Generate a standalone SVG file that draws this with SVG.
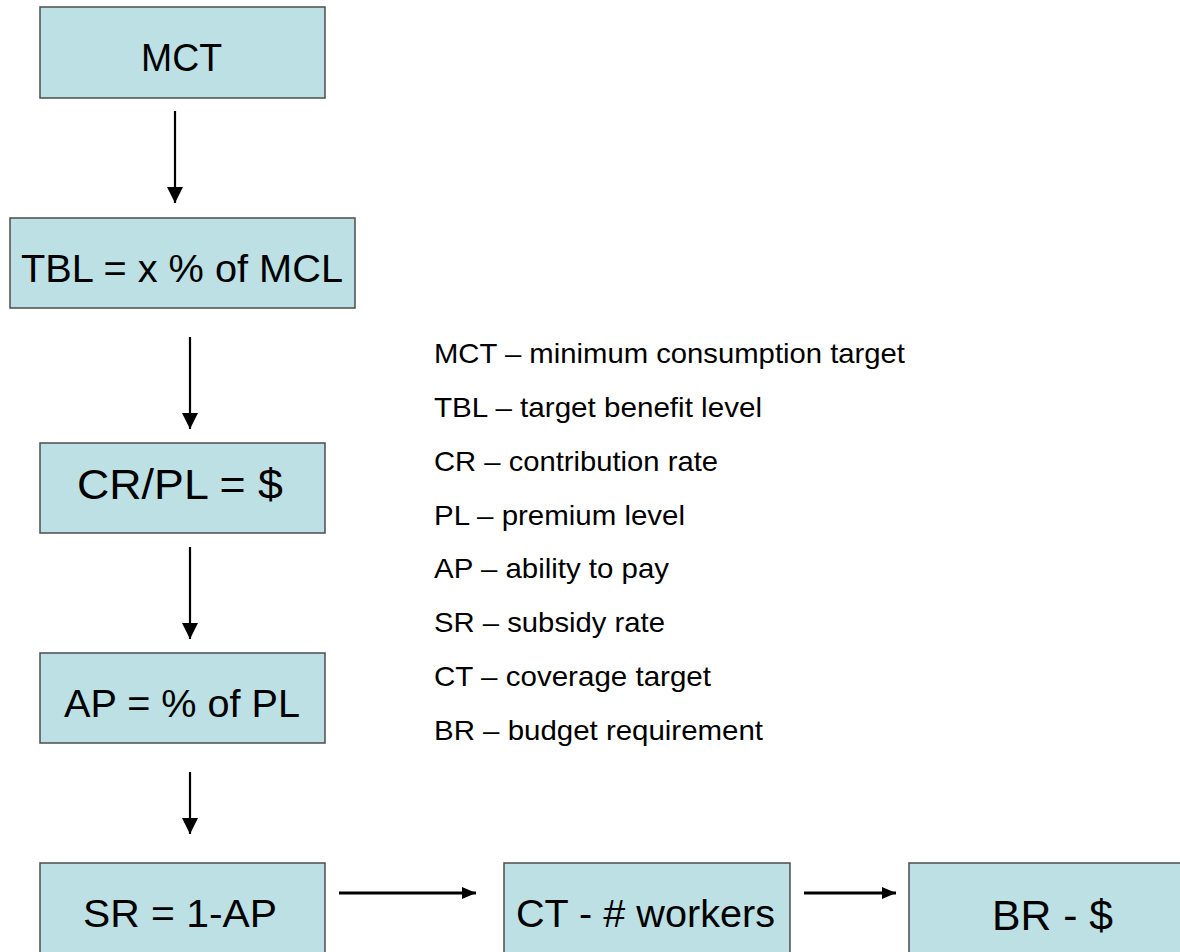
<svg xmlns="http://www.w3.org/2000/svg" width="1180" height="952" viewBox="0 0 1180 952">
<defs>
<style>
.box{fill:#bce0e3;stroke:#4d4d4d;stroke-width:1.5}
.nt{font-family:"Liberation Sans",Arial,sans-serif;fill:#000}
.lg{font-family:"Liberation Sans",Arial,sans-serif;font-size:28px;fill:#000}
.conn{stroke:#000;stroke-width:2.2;fill:none}
</style>
<marker id="ah" viewBox="0 0 16 16" refX="16" refY="8" markerWidth="16" markerHeight="16" markerUnits="userSpaceOnUse" orient="auto">
<path d="M0,0 L16,8 L0,16 Z" fill="#000"/>
</marker>
<marker id="ahs" viewBox="0 0 14 12" refX="14" refY="6" markerWidth="14" markerHeight="12" markerUnits="userSpaceOnUse" orient="auto">
<path d="M0,0 L14,6 L0,12 Z" fill="#000"/>
</marker>
</defs>
<rect width="1180" height="952" fill="#fff"/>
<g id="connectors">
<line class="conn" x1="175" y1="111" x2="175" y2="203" marker-end="url(#ah)"/>
<line class="conn" x1="190" y1="337" x2="190" y2="429" marker-end="url(#ah)"/>
<line class="conn" x1="190" y1="547" x2="190" y2="639" marker-end="url(#ah)"/>
<line class="conn" x1="190" y1="772" x2="190" y2="834" marker-end="url(#ah)"/>
<line class="conn" x1="339" y1="893" x2="476" y2="893" style="stroke-width:3" marker-end="url(#ahs)"/>
<line class="conn" x1="804" y1="893" x2="896" y2="893" style="stroke-width:3" marker-end="url(#ahs)"/>
</g>
<g id="n-mct">
<rect class="box" x="40" y="7" width="285" height="91"/>
<text class="nt" x="141" y="71" font-size="38" textLength="81" lengthAdjust="spacingAndGlyphs">MCT</text>
</g>
<g id="n-tbl">
<rect class="box" x="10" y="218" width="345" height="90"/>
<text class="nt" x="21" y="282" font-size="39" textLength="322" lengthAdjust="spacingAndGlyphs">TBL = x % of MCL</text>
</g>
<g id="n-cr">
<rect class="box" x="40" y="443" width="285" height="90"/>
<text class="nt" x="77" y="499" font-size="43" textLength="206" lengthAdjust="spacingAndGlyphs">CR/PL = $</text>
</g>
<g id="n-ap">
<rect class="box" x="40" y="653" width="285" height="90"/>
<text class="nt" x="64" y="717" font-size="39" textLength="236" lengthAdjust="spacingAndGlyphs">AP = % of PL</text>
</g>
<g id="n-sr">
<rect class="box" x="40" y="863" width="285" height="100"/>
<text class="nt" x="83" y="927" font-size="39" textLength="194" lengthAdjust="spacingAndGlyphs">SR = 1-AP</text>
</g>
<g id="n-ct">
<rect class="box" x="504" y="863" width="286" height="100"/>
<text class="nt" x="516" y="927" font-size="39" textLength="259" lengthAdjust="spacingAndGlyphs">CT - # workers</text>
</g>
<g id="n-br">
<rect class="box" x="909" y="863" width="290" height="100"/>
<text class="nt" x="992" y="930" font-size="43" textLength="121" lengthAdjust="spacingAndGlyphs">BR - $</text>
</g>
<g id="legend">
<text class="lg" x="434" y="363" textLength="471" lengthAdjust="spacingAndGlyphs">MCT – minimum consumption target</text>
<text class="lg" x="434" y="417" textLength="328" lengthAdjust="spacingAndGlyphs">TBL  – target benefit level</text>
<text class="lg" x="434" y="471" textLength="284" lengthAdjust="spacingAndGlyphs">CR – contribution rate</text>
<text class="lg" x="434" y="525" textLength="251" lengthAdjust="spacingAndGlyphs">PL – premium level</text>
<text class="lg" x="434" y="578" textLength="235" lengthAdjust="spacingAndGlyphs">AP – ability to pay</text>
<text class="lg" x="434" y="632" textLength="231" lengthAdjust="spacingAndGlyphs">SR – subsidy rate</text>
<text class="lg" x="434" y="686" textLength="277" lengthAdjust="spacingAndGlyphs">CT – coverage target</text>
<text class="lg" x="434" y="740" textLength="329" lengthAdjust="spacingAndGlyphs">BR – budget requirement</text>
</g>
</svg>
